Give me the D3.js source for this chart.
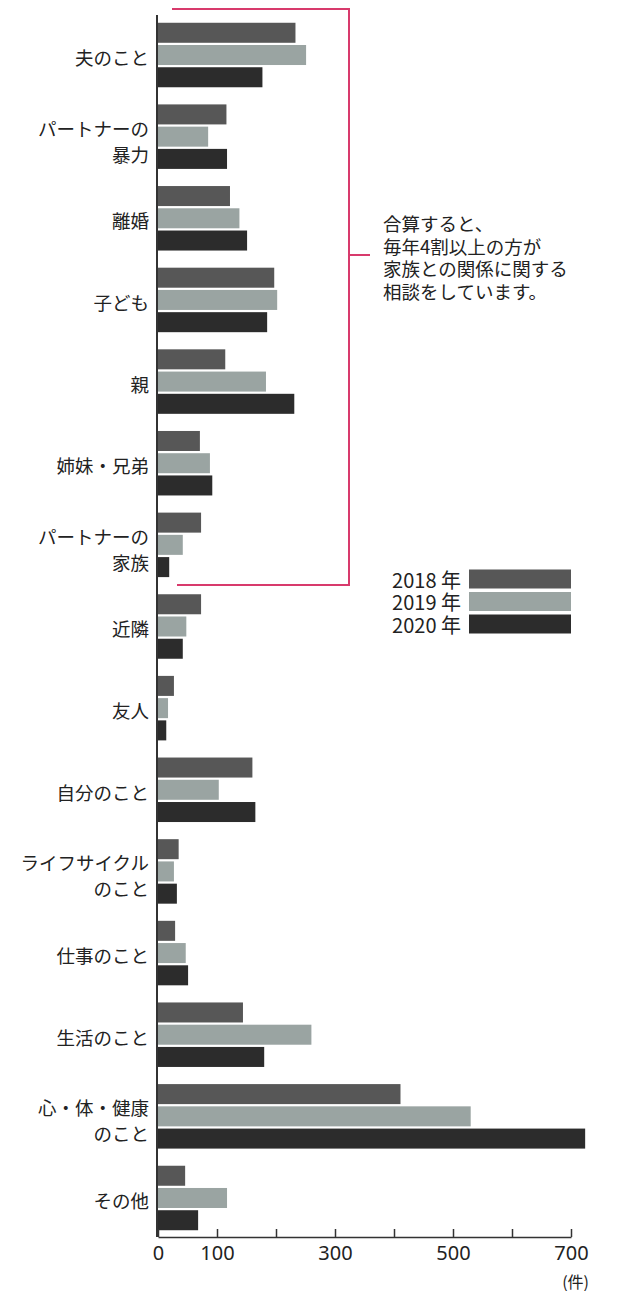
<!DOCTYPE html>
<html>
<head>
<meta charset="utf-8">
<script src="https://cdn.jsdelivr.net/npm/d3@7"></script>
<style>
  body { margin: 0; background: #fff; }
  svg text { font-family: "Noto Sans CJK JP", "Noto Sans", sans-serif; fill: #222; }
</style>
</head>
<body>
<svg id="chart" width="626" height="1291"></svg>
<script>
// categories (\n = line break in label)
const categories = [
  "夫のこと", "パートナーの\n暴力", "離婚", "子ども", "親", "姉妹・兄弟",
  "パートナーの\n家族", "近隣", "友人", "自分のこと", "ライフサイクル\nのこと",
  "仕事のこと", "生活のこと", "心・体・健康\nのこと", "その他"
];
const years = ["2018", "2019", "2020"];
const values2018 = [233, 116, 122, 197, 114, 71, 73, 73, 27, 160, 35, 29, 144, 411, 46];
const values2019 = [251, 85, 138, 202, 183, 88, 42, 48, 17, 103, 27, 47, 260, 530, 117];
const values2020 = [177, 117, 151, 185, 231, 92, 19, 42, 14, 165, 32, 51, 180, 724, 68];
const xTicks = [0, 100, 200, 300, 400, 500, 600, 700];
const xTickLabels = [0, 100, 300, 500, 700];
const noteLines = ["合算すると、", "毎年4割以上の方が", "家族との関係に関する", "相談をしています。"];

const colors = { "2018": "#575757", "2019": "#9aa4a2", "2020": "#2c2c2c" };
const accent = "#d83a6c";

const svg = d3.select("#chart");

const rows = categories.map((c, i) => ({
  cat: c,
  vals: { "2018": values2018[i], "2019": values2019[i], "2020": values2020[i] }
}));

// scales
const x = d3.scaleLinear().domain([0, 700]).range([158, 571]);
const y = d3.scaleBand().domain(categories).range([14.6, 1238.4])
  .paddingInner(0.21).paddingOuter(0.1);
const yInner = d3.scaleBand().domain(years).range([0, y.bandwidth()]).paddingInner(0.1);

// bars
const groups = svg.append("g").selectAll("g")
  .data(rows)
  .join("g")
  .attr("transform", d => `translate(0,${y(d.cat)})`);

groups.selectAll("rect")
  .data(d => years.map(yr => ({ yr, v: d.vals[yr] })))
  .join("rect")
  .attr("x", x(0))
  .attr("y", d => yInner(d.yr))
  .attr("width", d => x(d.v) - x(0))
  .attr("height", yInner.bandwidth())
  .attr("fill", d => colors[d.yr]);

// category labels
groups.each(function (d) {
  const lines = d.cat.split("\n");
  const c = y.bandwidth() / 2;
  const t = d3.select(this).append("text")
    .attr("text-anchor", "end")
    .attr("font-size", 18.5)
    .attr("dominant-baseline", "central");
  if (lines.length === 1) {
    t.append("tspan").attr("x", 149).attr("y", c + 2).text(lines[0]);
  } else {
    t.append("tspan").attr("x", 149).attr("y", c - 9).text(lines[0]);
    t.append("tspan").attr("x", 149).attr("y", c + 17).text(lines[1]);
  }
});

// y axis line
svg.append("line")
  .attr("x1", 157).attr("x2", 157)
  .attr("y1", 15).attr("y2", 1237)
  .attr("stroke", "#333").attr("stroke-width", 2);

// x axis
const xAxis = d3.axisBottom(x)
  .tickValues(xTicks)
  .tickSizeInner(-8)
  .tickSizeOuter(0)
  .tickPadding(9)
  .tickFormat(d => xTickLabels.includes(d) ? d : "");

const gx = svg.append("g")
  .attr("transform", "translate(0,1237)")
  .call(xAxis);
gx.select(".domain").attr("stroke", "#333").attr("stroke-width", 1.5);
gx.selectAll(".tick line").attr("stroke", "#333").attr("stroke-width", 1.5);
gx.selectAll(".tick text")
  .attr("font-size", 20)
  .style("font-family", "\"Noto Sans\", sans-serif")
  .attr("fill", "#333");

svg.append("text")
  .attr("x", 589).attr("y", 1281)
  .attr("text-anchor", "end")
  .attr("dominant-baseline", "central")
  .attr("font-size", 16)
  .text("(件)");

// bracket for family categories
const bx = 349, bTop = 9, bBot = 585;
svg.append("path")
  .attr("d", `M172,${bTop}H${bx}V${bBot}H177M${bx},255H370`)
  .attr("fill", "none")
  .attr("stroke", accent)
  .attr("stroke-width", 2);

svg.append("g").selectAll("text")
  .data(noteLines)
  .join("text")
  .attr("x", 383)
  .attr("y", (d, i) => 223 + i * 22.5)
  .attr("dominant-baseline", "central")
  .attr("font-size", 18.5)
  .text(d => d);

// legend
const legend = svg.append("g").selectAll("g")
  .data(years)
  .join("g")
  .attr("transform", (d, i) => `translate(0,${579 + i * 22.5})`);

legend.append("rect")
  .attr("x", 469).attr("y", -9.5)
  .attr("width", 102).attr("height", 19)
  .attr("fill", d => colors[d]);

legend.append("text")
  .attr("x", 461).attr("y", 0)
  .attr("text-anchor", "end")
  .attr("dominant-baseline", "central")
  .attr("font-size", 20)
  .text(d => d + " 年");
</script>
</body>
</html>
